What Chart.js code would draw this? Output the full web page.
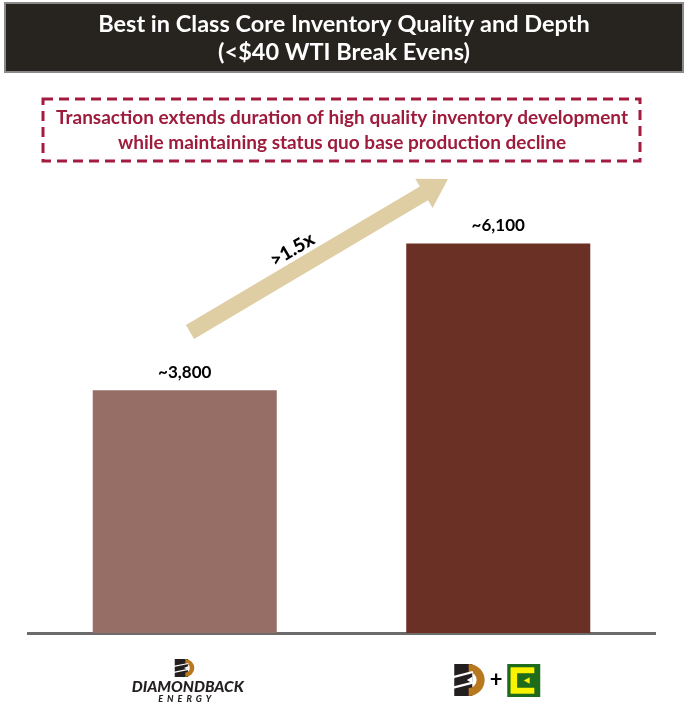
<!DOCTYPE html>
<html>
<head>
<meta charset="utf-8">
<script src="https://cdn.jsdelivr.net/npm/chart.js@4.4.0/dist/chart.umd.min.js"></script>
<style>
  html, body { margin: 0; padding: 0; background: #ffffff; }
  #wrap { position: relative; width: 693px; height: 707px; }
</style>
</head>
<body>
<div id="wrap"><canvas id="chart" width="693" height="707"></canvas></div>
<script>
// Chart data
const categories = ['Diamondback', 'Diamondback + Energen'];
const inventory = [3800, 6100];
const valueLabels = ['~3,800', '~6,100'];
const barColors = ['#976e66', '#6a2f25'];

const titleLines = ['Best in Class Core Inventory Quality and Depth', '(<$40 WTI Break Evens)'];
const calloutLines = ['Transaction extends duration of high quality inventory development',
                      'while maintaining status quo base production decline'];
const multipleLabel = '>1.5x';

const FONT = 'Lato, "Open Sans", sans-serif';

/**
 * Diamondback "D" mark: striped black block with an orange arc
 */
function drawDMark(ctx, x, y, w, h) {
    ctx.save();
    // black slabs
    ctx.fillStyle = '#231f20';
    ctx.fillRect(x, y, w * 0.6, h);
    // orange arc
    ctx.fillStyle = '#b8781e';
    const cx = x + w * 0.48, cy = y + h / 2;
    ctx.beginPath();
    ctx.arc(cx, cy, h / 2, -Math.PI / 2, Math.PI / 2);
    ctx.lineTo(cx, y + h * 0.75);
    ctx.arc(cx, cy, h * 0.25, Math.PI / 2, -Math.PI / 2, true);
    ctx.closePath();
    ctx.fill();
    // white diagonal cuts through the black part
    ctx.strokeStyle = '#ffffff';
    ctx.lineWidth = Math.max(1.2, h * 0.07);
    [0.33, 0.66].forEach(f => {
        ctx.beginPath();
        ctx.moveTo(x - 1, y + h * f + h * 0.08);
        ctx.lineTo(x + w * 0.62, y + h * f - h * 0.08);
        ctx.stroke();
    });
    // notch on the right of the black block
    ctx.fillStyle = '#ffffff';
    ctx.beginPath();
    ctx.moveTo(x + w * 0.6, y + h * 0.4);
    ctx.lineTo(x + w * 0.42, y + h * 0.5);
    ctx.lineTo(x + w * 0.6, y + h * 0.6);
    ctx.closePath();
    ctx.fill();
    ctx.restore();
}

/**
 * Energen mark: green square with yellow C
 */
function drawEnergenMark(ctx, x, y, s) {
    ctx.save();
    ctx.fillStyle = '#1f6b1c';
    ctx.fillRect(x, y, s, s);
    ctx.fillStyle = '#fbf200';
    ctx.fillRect(x + s * 0.1, y + s * 0.1, s * 0.72, s * 0.8);
    ctx.fillStyle = '#1f6b1c';
    ctx.fillRect(x + s * 0.3, y + s * 0.28, s * 0.6, s * 0.44);
    ctx.fillStyle = '#fbf200';
    ctx.beginPath();
    ctx.moveTo(x + s * 0.5, y + s * 0.5);
    ctx.lineTo(x + s * 0.68, y + s * 0.4);
    ctx.lineTo(x + s * 0.68, y + s * 0.6);
    ctx.closePath();
    ctx.fill();
    ctx.restore();
}

const decorPlugin = {
    id: 'decor',
    beforeDraw(chart) {
        const ctx = chart.ctx;
        ctx.save();
        // title banner
        ctx.fillStyle = '#27241f';
        ctx.fillRect(5, 3, 678, 69);
        ctx.strokeStyle = '#8a8a8a';
        ctx.lineWidth = 2;
        ctx.strokeRect(5, 3, 678, 69);
        ctx.fillStyle = '#ffffff';
        ctx.font = 'bold 23.5px ' + FONT;
        ctx.textAlign = 'center';
        ctx.textBaseline = 'middle';
        ctx.fillText(titleLines[0], 344, 24);
        ctx.fillText(titleLines[1], 344, 52);

        // dashed callout
        ctx.strokeStyle = '#a31c3f';
        ctx.lineWidth = 3;
        ctx.setLineDash([10, 6]);
        ctx.strokeRect(43, 99, 597, 62);
        ctx.setLineDash([]);
        ctx.fillStyle = '#9e1b3c';
        ctx.font = 'bold 19px ' + FONT;
        ctx.fillText(calloutLines[0], 342, 118);
        ctx.fillText(calloutLines[1], 342, 143);
        ctx.restore();
    },
    afterDatasetsDraw(chart) {
        const ctx = chart.ctx;
        const meta = chart.getDatasetMeta(0);
        ctx.save();
        // value labels above bars
        ctx.fillStyle = '#000000';
        ctx.font = 'bold 17px ' + FONT;
        ctx.textAlign = 'center';
        ctx.textBaseline = 'bottom';
        meta.data.forEach((bar, i) => {
            ctx.fillText(valueLabels[i], bar.x, bar.y - 9);
        });

        // growth arrow
        const tail = { x: 190, y: 332 };
        const tip = { x: 448, y: 179 };
        const ang = Math.atan2(tip.y - tail.y, tip.x - tail.x);
        const len = Math.hypot(tip.x - tail.x, tip.y - tail.y);
        ctx.translate(tail.x, tail.y);
        ctx.rotate(ang);
        ctx.fillStyle = '#dfcea3';
        const sw = 8, hl = 28, hw = 17;
        ctx.beginPath();
        ctx.moveTo(0, -sw);
        ctx.lineTo(len - hl, -sw);
        ctx.lineTo(len - hl, -hw);
        ctx.lineTo(len, 0);
        ctx.lineTo(len - hl, hw);
        ctx.lineTo(len - hl, sw);
        ctx.lineTo(0, sw);
        ctx.closePath();
        ctx.fill();
        ctx.fillStyle = '#000000';
        ctx.font = '900 19px ' + FONT;
        ctx.textBaseline = 'bottom';
        ctx.fillText(multipleLabel, 130, -9);
        ctx.restore();
    },
    afterDraw(chart) {
        const ctx = chart.ctx;
        const xs = chart.scales.x;
        ctx.save();
        // left logo: Diamondback Energy
        const c0 = xs.getPixelForValue(0);
        drawDMark(ctx, c0 - 10, 659, 22, 18);
        ctx.fillStyle = '#231f20';
        ctx.textAlign = 'center';
        ctx.textBaseline = 'middle';
        ctx.font = 'italic 900 15.5px ' + FONT;
        ctx.fillText('DIAMONDBACK', c0 + 3, 687);
        ctx.font = 'italic 900 9px ' + FONT;
        ctx.letterSpacing = '4px';
        ctx.fillText('ENERGY', c0 + 2, 699);
        ctx.letterSpacing = '0px';

        // right logo: Diamondback + Energen
        const c1 = xs.getPixelForValue(1);
        drawDMark(ctx, c1 - 44, 664, 30, 32);
        ctx.fillStyle = '#000000';
        ctx.font = 'bold 22px ' + FONT;
        ctx.fillText('+', c1 - 2, 680);
        drawEnergenMark(ctx, c1 + 9, 664, 33);
        ctx.restore();
    }
};

new Chart(document.getElementById('chart'), {
    type: 'bar',
    data: {
        labels: categories,
        datasets: [{
            data: inventory,
            backgroundColor: barColors,
            borderWidth: 0,
            barPercentage: 0.587,
            categoryPercentage: 1.0
        }]
    },
    options: {
        responsive: false,
        animation: false,
        layout: { padding: { top: 186, bottom: 74, left: 28, right: 38 } },
        plugins: {
            legend: { display: false },
            tooltip: { enabled: false }
        },
        scales: {
            x: {
                grid: { display: false, drawTicks: false },
                ticks: { display: false },
                border: { display: true, color: '#6b6b6b', width: 3 }
            },
            y: {
                display: false,
                min: 0,
                max: 7000
            }
        }
    },
    plugins: [decorPlugin]
});
</script>
</body>
</html>
